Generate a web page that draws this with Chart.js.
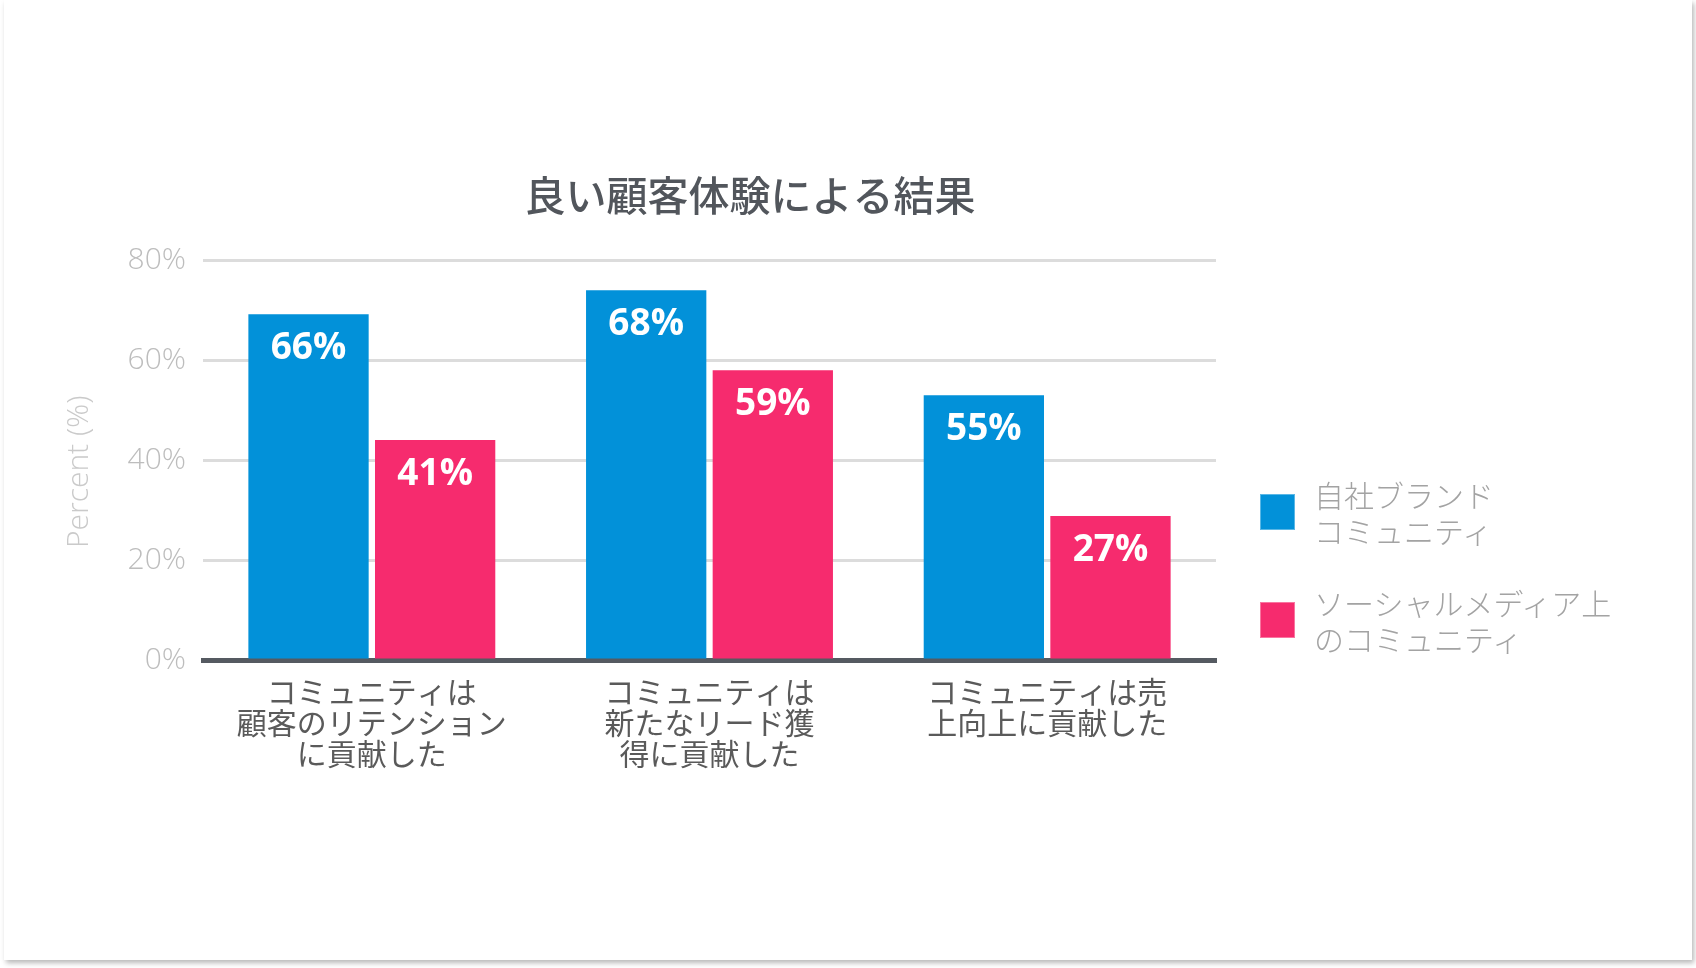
<!DOCTYPE html>
<html lang="ja">
<head>
<meta charset="utf-8">
<script src="https://cdn.jsdelivr.net/npm/chart.js@4.4.1/dist/chart.umd.min.js"></script>
<style>
  html, body { margin: 0; padding: 0; background: #fff; }
  body { width: 1696px; height: 968px; position: relative; overflow: hidden; }
  .card {
    position: absolute; left: 4px; top: 0; width: 1688px; height: 960px;
    background: #fff; box-shadow: 2px 3px 5px rgba(0,0,0,0.28);
  }
  .chart-box { position: absolute; left: 40px; top: 140px; width: 1420px; height: 640px; }
  #legend { position: absolute; left: 1260px; top: 476px; font-family: "Noto Sans CJK JP", sans-serif; }
  .legend-item { display: flex; align-items: center; height: 72px; margin-bottom: 36px; }
  .legend-box { width: 35px; height: 36px; margin-right: 19px; box-sizing: border-box; border: 1px solid rgba(255,255,255,0.35); }
  .legend-text { font-size: 30px; line-height: 36px; color: #a3a3a3; font-weight: 300; }
</style>
</head>
<body>
<div class="card"></div>
<div class="chart-box"><canvas id="resultChart"></canvas></div>
<div id="legend"></div>
<script>
// カテゴリー（複数行）
const categories = [
  ['コミュニティは', '顧客のリテンション', 'に貢献した'],
  ['コミュニティは', '新たなリード獲', '得に貢献した'],
  ['コミュニティは売', '上向上に貢献した']
];
// 凡例
const seriesNames = [
  ['自社ブランド', 'コミュニティ'],
  ['ソーシャルメディア上', 'のコミュニティ']
];
// 棒の高さ（図から読んだ値）
const brandValues = [69.2, 74, 53];
const socialValues = [44, 58, 28.8];
// 棒に表示されているラベル
const brandLabels = ['66%', '68%', '55%'];
const socialLabels = ['41%', '59%', '27%'];
const seriesColors = ['#0291d9', '#f62b6e'];
const yMin = 0, yMax = 80, yStep = 20;

// 棒の中に白いラベルを描く
const barLabelPlugin = {
  id: 'barLabels',
  afterDatasetsDraw(chart) {
    const ctx = chart.ctx;
    ctx.save();
    ctx.font = 'bold 37px "Open Sans", sans-serif';
    ctx.fillStyle = '#fff';
    ctx.textAlign = 'center';
    ctx.textBaseline = 'middle';
    chart.data.datasets.forEach((ds, i) => {
      chart.getDatasetMeta(i).data.forEach((bar, j) => {
        ctx.fillText(ds.barLabels[j], bar.x, bar.y + 34);
      });
    });
    ctx.restore();
  }
};

const initChart = () => {
  new Chart(document.getElementById('resultChart'), {
    type: 'bar',
    data: {
      labels: categories,
      datasets: [{
        label: seriesNames[0].join(''),
        data: brandValues,
        barLabels: brandLabels,
        backgroundColor: seriesColors[0]
      }, {
        label: seriesNames[1].join(''),
        data: socialValues,
        barLabels: socialLabels,
        backgroundColor: seriesColors[1]
      }]
    },
    options: {
      responsive: true,
      maintainAspectRatio: false,
      animation: false,
      categoryPercentage: 0.75,
      barPercentage: 0.95,
      layout: { padding: 0 },
      plugins: {
        legend: { display: false },
        tooltip: { enabled: false },
        title: {
          display: true,
          text: '良い顧客体験による結果',
          color: '#52565c',
          font: { family: '"Noto Sans CJK JP", sans-serif', size: 41, weight: 500 },
          padding: { top: 31, bottom: 40 }
        }
      },
      scales: {
        x: {
          grid: { display: false, drawTicks: false },
          border: { display: true, color: '#555a61', width: 5 },
          ticks: {
            color: '#5a5a5a',
            padding: 16,
            maxRotation: 0,
            autoSkip: false,
            font: { family: '"Noto Sans CJK JP", sans-serif', size: 30, lineHeight: 1.03 }
          },
          afterFit: (scale) => { scale.height = 120; }
        },
        y: {
          min: yMin,
          max: yMax,
          grid: { color: '#dcdcdc', lineWidth: 3, drawTicks: false },
          border: { display: false },
          ticks: {
            stepSize: yStep,
            padding: 17,
            color: '#bdbdbd',
            font: { family: '"Open Sans", sans-serif', size: 30, weight: 300 },
            callback: (v) => v + '%'
          },
          title: {
            display: true,
            text: 'Percent (%)   ',
            color: '#cacaca',
            font: { family: '"Open Sans", sans-serif', size: 30, weight: 300 },
            padding: { top: 21, bottom: 0 }
          },
          afterFit: (scale) => { scale.width = 163; }
        },
        // 凡例のための右側の余白（何も描かない）
        legendSpace: {
          type: 'linear',
          position: 'right',
          display: true,
          grid: { display: false, drawTicks: false },
          border: { display: false },
          ticks: { display: false },
          afterFit: (scale) => { scale.width = 244; }
        }
      }
    },
    plugins: [barLabelPlugin]
  });
};

// 凡例（HTML）
const initLegend = () => {
  const legend = document.getElementById('legend');
  seriesNames.forEach((lines, i) => {
    const item = document.createElement('div');
    item.className = 'legend-item';
    const box = document.createElement('div');
    box.className = 'legend-box';
    box.style.background = seriesColors[i];
    const text = document.createElement('div');
    text.className = 'legend-text';
    text.innerHTML = lines.join('<br>');
    item.appendChild(box);
    item.appendChild(text);
    legend.appendChild(item);
  });
};

initChart();
initLegend();
</script>
</body>
</html>
